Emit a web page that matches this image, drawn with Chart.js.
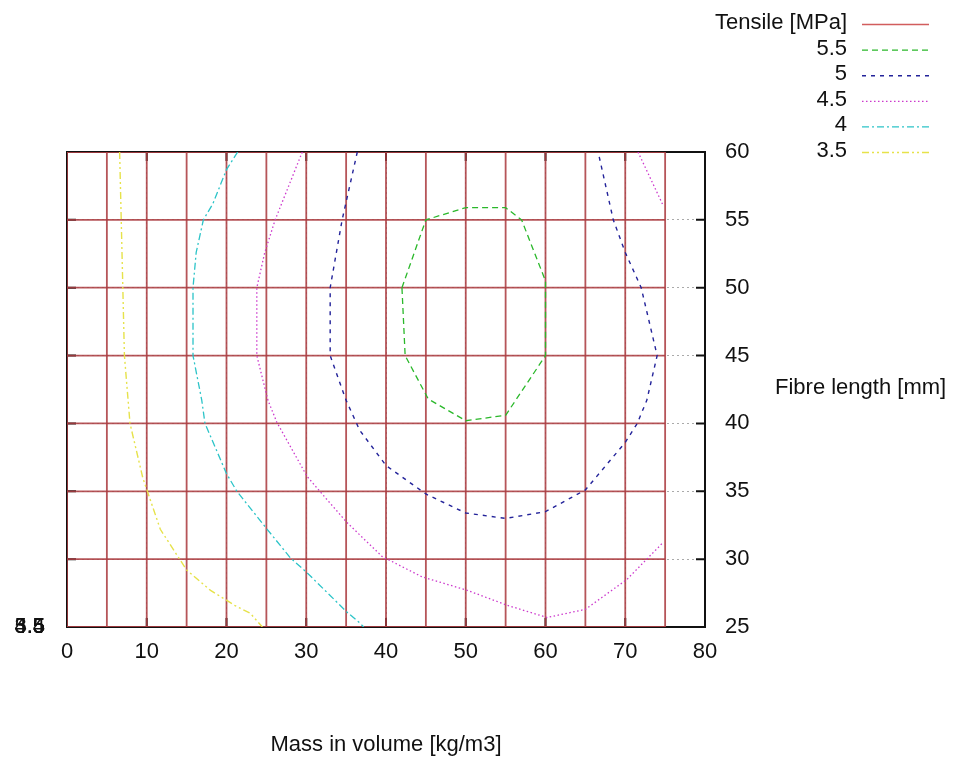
<!DOCTYPE html>
<html>
<head>
<meta charset="utf-8">
<script src="https://cdn.jsdelivr.net/npm/chart.js@4/dist/chart.umd.min.js"></script>
<style>
html,body{margin:0;padding:0;background:#fff;}
#wrap{width:960px;height:758px;}
</style>
</head>
<body>
<div id="wrap"><canvas id="c" width="960" height="758"></canvas></div>
<script>
// ---- data ----
const xTickValues = [0, 10, 20, 30, 40, 50, 60, 70, 80];
const yTickValues = [25, 30, 35, 40, 45, 50, 55, 60];
const meshX = [0, 5, 10, 15, 20, 25, 30, 35, 40, 45, 50, 55, 60, 65, 70, 75];
const meshY = [25, 30, 35, 40, 45, 50, 55, 60];
const levelLabels = ['5.5', '5', '4.5', '4', '3.5'];

const c55X = [42, 45, 50, 55, 57, 60, 60, 55, 50, 45.3, 42.4, 42];
const c55Y = [50, 55, 55.9, 55.9, 55, 50.5, 45, 40.6, 40.2, 41.8, 45, 50];

const c5X = [36.4, 34.5, 33, 33, 35, 36.7, 40, 45, 50, 55, 60, 65, 70, 71.5, 72.7, 74, 72, 70, 68.5, 66.6];
const c5Y = [60, 55, 50, 45, 41.7, 39.5, 36.9, 34.8, 33.4, 33, 33.5, 35.1, 38.6, 40, 41.7, 45, 50, 52.6, 55, 60];

const c45aX = [29.5, 26.1, 24.8, 23.8, 23.8, 25.2, 26.3, 30.1, 31.7, 35.1, 39.5, 44.5, 50.2, 55.2, 60.2, 65, 70.2, 72.7, 74.7];
const c45aY = [60, 55, 52.6, 50, 45, 41.7, 40.1, 36.1, 35, 32.7, 30.2, 28.7, 27.7, 26.6, 25.7, 26.3, 28.5, 30, 31.2];
const c45bX = [71.6, 74.8];
const c45bY = [60, 56];

const c4X = [21.4, 20, 18.3, 17.1, 16.2, 15.8, 15.8, 16.9, 17.3, 20, 21.3, 25.1, 28, 30.1, 35.1, 36.7, 37.2];
const c4Y = [60, 58.7, 56.2, 55, 52.6, 50, 45, 41.7, 40, 36.3, 35, 32.2, 30.1, 29, 26.1, 25.3, 25];

const c35X = [6.6, 6.8, 7, 7.2, 7.9, 9.5, 11.7, 15, 18, 21, 23, 24.5];
const c35Y = [60, 55, 50, 45, 40, 36, 32.2, 29.2, 27.7, 26.6, 26, 25];

// ---- styles ----
const FONT = '"Liberation Sans", Arial, Helvetica, sans-serif';
const FS = 22;
const MESH = 'rgba(172,62,66,0.88)';
const styles = {
  tensile: {color: 'rgba(205,75,75,0.9)', dash: [], width: 1.6},
  l55: {color: '#2ab82a', dash: [6, 4], width: 1.3},
  l5: {color: '#23239a', dash: [4, 5], width: 1.4},
  l45: {color: '#cc38cc', dash: [1.5, 2.5], width: 1.3},
  l4: {color: '#2cc4c8', dash: [7, 3, 2, 3], width: 1.3},
  l35: {color: '#e6e24a', dash: [7, 3, 2, 3, 2, 3], width: 1.4}
};

function pts(xs, ys) { return xs.map((v, i) => ({x: v, y: ys[i]})); }
function lineDs(data, st, order) {
  return {data, showLine: true, fill: false, pointRadius: 0, pointHoverRadius: 0,
    borderColor: st.color, borderWidth: st.width, borderDash: st.dash, tension: 0, order};
}

const datasets = [
  lineDs(pts(c55X, c55Y), styles.l55, 0),
  lineDs(pts(c5X, c5Y), styles.l5, 0),
  lineDs(pts(c45aX, c45aY), styles.l45, 0),
  lineDs(pts(c45bX, c45bY), styles.l45, 0),
  lineDs(pts(c4X, c4Y), styles.l4, 0),
  lineDs(pts(c35X, c35Y), styles.l35, 0)
];
const meshStyle = {color: MESH, dash: [], width: 1.8};
meshX.forEach(v => datasets.push(lineDs([{x: v, y: meshY[0]}, {x: v, y: meshY[meshY.length - 1]}], meshStyle, 1)));
meshY.forEach(v => datasets.push(lineDs([{x: meshX[0], y: v}, {x: meshX[meshX.length - 1], y: v}], meshStyle, 1)));

const framePlugin = {
  id: 'frame',
  beforeDatasetsDraw(chart) {
    const {ctx, chartArea: a, scales: {x, y}} = chart;
    ctx.save();
    ctx.strokeStyle = '#111';
    ctx.lineWidth = 2;
    ctx.strokeRect(a.left, a.top, a.right - a.left, a.bottom - a.top);
    ctx.beginPath();
    xTickValues.forEach(v => {
      const px = x.getPixelForValue(v);
      ctx.moveTo(px, a.bottom); ctx.lineTo(px, a.bottom - 9);
      ctx.moveTo(px, a.top); ctx.lineTo(px, a.top + 9);
    });
    yTickValues.forEach(v => {
      const py = y.getPixelForValue(v);
      ctx.moveTo(a.left, py); ctx.lineTo(a.left + 9, py);
      ctx.moveTo(a.right, py); ctx.lineTo(a.right - 9, py);
    });
    ctx.stroke();
    ctx.restore();
  },
  afterDraw(chart) {
    const {ctx, chartArea: a} = chart;
    ctx.save();
    ctx.font = FS + 'px ' + FONT;
    ctx.fillStyle = '#111';
    // legend
    const entries = [['Tensile [MPa]', styles.tensile]].concat(
      levelLabels.map((l, i) => [l, [styles.l55, styles.l5, styles.l45, styles.l4, styles.l35][i]]));
    entries.forEach((e, i) => {
      const yy = 23 + i * 25.6;
      ctx.textAlign = 'right';
      ctx.textBaseline = 'middle';
      ctx.fillText(e[0], 847, yy);
      ctx.beginPath();
      ctx.strokeStyle = e[1].color;
      ctx.lineWidth = e[1].width;
      ctx.setLineDash(e[1].dash);
      ctx.moveTo(862, yy + 1.5); ctx.lineTo(929, yy + 1.5);
      ctx.stroke();
      ctx.setLineDash([]);
    });
    // overlapping level labels at the lower-left corner
    ctx.textAlign = 'right';
    ctx.textBaseline = 'middle';
    levelLabels.forEach(l => ctx.fillText(l, 45, a.bottom));
    // y axis title (horizontal)
    ctx.textAlign = 'left';
    ctx.fillText('Fibre length [mm]', 775, 388);
    ctx.restore();
  }
};

new Chart(document.getElementById('c'), {
  type: 'scatter',
  data: {datasets},
  plugins: [framePlugin],
  options: {
    responsive: false,
    animation: false,
    events: [],
    layout: {padding: {left: 67, top: 152, right: 0, bottom: 0}},
    plugins: {legend: {display: false}, tooltip: {enabled: false}},
    scales: {
      x: {
        type: 'linear', min: 0, max: 80,
        afterFit(s) { s.height = 131; },
        afterBuildTicks(s) { s.ticks = xTickValues.map(v => ({value: v})); },
        ticks: {font: {size: FS, family: FONT}, color: '#111', padding: 12, maxRotation: 0},
        grid: {color: '#aaa', drawTicks: false, lineWidth: 1},
        border: {display: false, dash: [2, 3]},
        title: {display: true, text: 'Mass in volume [kg/m3]', color: '#111',
          font: {size: FS, family: FONT}, padding: {top: 0, bottom: 0}}
      },
      y: {
        type: 'linear', position: 'right', min: 25, max: 60,
        afterFit(s) { s.width = 255; },
        afterBuildTicks(s) { s.ticks = yTickValues.map(v => ({value: v})); },
        ticks: {font: {size: FS, family: FONT}, color: '#111', padding: 20},
        grid: {color: '#aaa', drawTicks: false, lineWidth: 1},
        border: {display: false, dash: [2, 3]}
      }
    }
  }
});
</script>
</body>
</html>
